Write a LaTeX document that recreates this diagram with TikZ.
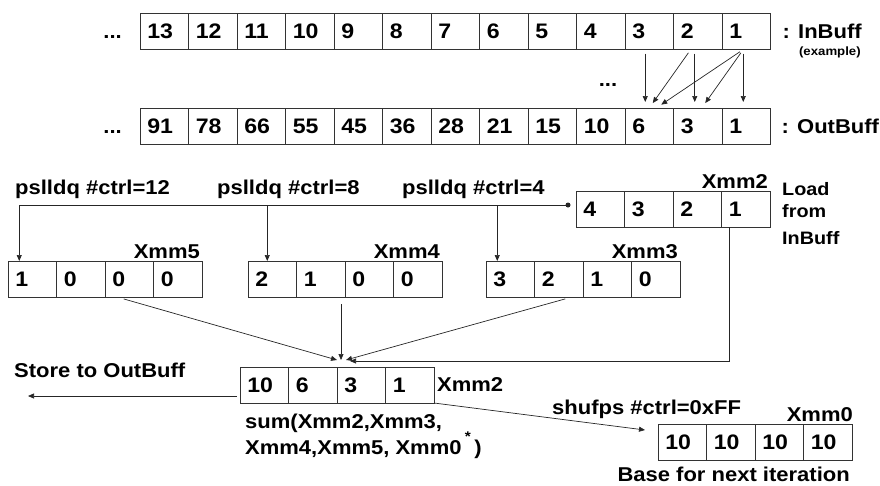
\documentclass[tikz,border=0pt]{standalone}
\usepackage{fontspec}
\setmainfont{Liberation Sans}[FakeStretch=1.1]
\usepackage{tikz}
\usetikzlibrary{arrows.meta, positioning}
\newcommand{\lblfont}{\fontsize{20}{24}\selectfont\bfseries}
\newcommand{\cellfont}{\fontsize{21}{24}\selectfont\bfseries}
\newcommand{\loadfont}{\fontsize{18}{22}\selectfont\bfseries}
\newcommand{\tinyfont}{\fontsize{12}{14}\selectfont\bfseries}
% one row of register cells: name, left x, centre y, values
\newcommand{\regrow}[4]{%
  \foreach \v [count=\i] in {#4}
    \node[cell] (#1\i) at ({#2+48.5*\i-24.25},#3) {\v};}

\begin{document}
\begin{tikzpicture}[
  x=1pt, y=-1pt,
  font=\lblfont,
  cell/.style={rectangle, draw=black!80, line width=1pt, outer sep=0pt,
               minimum height=36pt, text width=34pt, inner xsep=7.25pt,
               align=left, font=\cellfont},
  lbl/.style={inner sep=2pt},
  arrow/.style={-{Triangle[length=6pt, width=5pt]}, line width=0.7pt, black!85}
]
\useasboundingbox (0,0) rectangle (880,485);

% Buffers
\regrow{inb}{140}{31.5}{13,12,11,10,9,8,7,6,5,4,3,2,1}
\regrow{outb}{140}{126}{91,78,66,55,45,36,28,21,15,10,6,3,1}
\node[lbl, anchor=base east] (dotsin)  at ([xshift=-16pt]inb1.base west)  {...};
\node[lbl, anchor=base east] (dotsout) at ([xshift=-16pt]outb1.base west) {...};
\node[lbl, anchor=base west] (inname)  at ([xshift=10pt]inb13.base east)  {: InBuff};
\node[lbl, anchor=base west] (outname) at ([xshift=9pt]outb13.base east)  {: OutBuff};
\node[font=\tinyfont, inner sep=1pt, anchor=north east] (example)
  at ([xshift=-2pt, yshift=-4pt]inname.south east) {(example)};
\node[lbl] (dotsmid) at (608,85) {...};

% Prefix sum example
\draw[arrow, shorten <=4pt, shorten >=6pt] ([xshift=-4pt]inb11.south) -- ([xshift=-4pt]outb11.north);
\draw[arrow, shorten <=4pt, shorten >=6pt] ([xshift=-7pt]inb12.south) -- (outb11.north);
\draw[arrow, shorten <=4pt, shorten >=6pt] ([xshift=-3pt]inb12.south) -- ([xshift=-3pt]outb12.north);
\draw[arrow, shorten <=4pt, shorten >=6pt] ([xshift=-3pt]inb13.south) -- ([xshift=-3pt]outb13.north);
\draw[arrow, shorten <=4pt, shorten >=6pt] ([xshift=-3pt]inb13.south) -- ([xshift=4pt]outb12.north);
\draw[arrow, shorten <=4pt, shorten >=6pt] ([xshift=-3pt]inb13.south) -- ([xshift=7pt]outb11.north);

% Load register
\regrow{ldx}{576}{209}{4,3,2,1}
\node[lbl, anchor=south east] (ldname) at (ldx4.north east) {Xmm2};
\node[lbl, anchor=north west, align=left, font=\loadfont] (ldtext)
  at (780,180) {Load\\from\\[5pt]InBuff};

% Shifted copies
\regrow{xfive}{8}{279}{1,0,0,0}
\regrow{xfour}{248}{279}{2,1,0,0}
\regrow{xthree}{486}{279}{3,2,1,0}
\node[lbl, anchor=south east] (fivename)  at (xfive4.north east)  {Xmm5};
\node[lbl, anchor=south east] (fourname)  at (xfour4.north east)  {Xmm4};
\node[lbl, anchor=south east] (threename) at (xthree4.north east) {Xmm3};
\node[lbl, anchor=base west] (shift12) at (13,194)  {pslldq \#ctrl=12};
\node[lbl, anchor=base west] (shift8)  at (215,194) {pslldq \#ctrl=8};
\node[lbl, anchor=base west] (shift4)  at (400,194) {pslldq \#ctrl=4};

\coordinate (src) at ([xshift=-8pt, yshift=4pt]ldx1.west);
\fill[black!85] (src) circle (2.5pt);
\draw[arrow] (src) -| ([xshift=-13pt]xfive1.north);
\draw[arrow] (src) -| ([xshift=-5pt]xfour1.north);
\draw[arrow] (src) -| ([xshift=-13pt]xthree1.north);

% Sum
\regrow{sumx}{240}{385}{10,6,3,1}
\node[lbl, right=1pt of sumx4] (sumname) {Xmm2};
\node[lbl, anchor=north west, align=left] (sumtext)
  at ([xshift=3pt, yshift=-9pt]sumx1.south west)
  {sum(Xmm2,Xmm3,\\[2pt]Xmm4,Xmm5, Xmm0\,\smash{\raisebox{13pt}{\fontsize{14}{14}\selectfont *}}\,)};

\draw[arrow, shorten <=7pt] ([xshift=12pt]xfive2.south east) -- ([yshift=7pt]sumx3.north west);
\draw[arrow, shorten <=7pt] ([xshift=-4pt]xfour2.south east) -- ([xshift=4pt, yshift=7pt]sumx3.north west);
\draw[arrow, shorten <=7pt] ([xshift=-11pt]xthree2.south east) -- ([xshift=9pt, yshift=7pt]sumx3.north west);
\draw[arrow] ([xshift=8pt]ldx4.south west) |- ([xshift=13pt, yshift=6pt]sumx3.north west);

% Store
\node[lbl, anchor=base west] (store) at (12,377) {Store to OutBuff};
\coordinate (storeend) at (28,396);
\draw[arrow] ([xshift=-3pt, yshift=-11pt]sumx1.west) -- (storeend);

% Broadcast
\regrow{basex}{658}{442}{10,10,10,10}
\node[lbl, anchor=south east] (basename) at ([xshift=3pt]basex4.north east) {Xmm0};
\node[lbl, anchor=base west] (shuf) at (550,414) {shufps \#ctrl=0xFF};
\node[lbl, anchor=north east] (basetext) at ([yshift=-5pt]basex4.south east) {Base for next iteration};
\draw[arrow] (sumx4.south east) -- ([xshift=-13pt, yshift=12pt]basex1.west);

\end{tikzpicture}
\end{document}
